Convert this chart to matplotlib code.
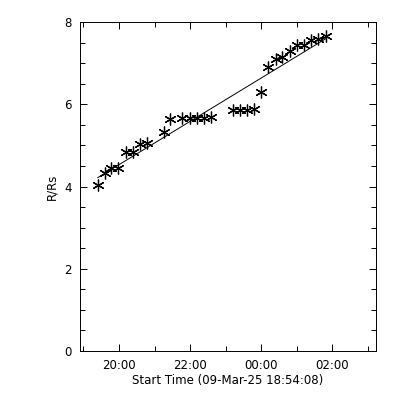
import numpy as np
import matplotlib
matplotlib.use("Agg")
import matplotlib.pyplot as plt
from matplotlib.ticker import FixedLocator, MultipleLocator

START = "18:54:08"  # start time of the plot (seconds axis origin)

times = ["19:24", "19:36", "19:47", "19:58", "20:12", "20:23", "20:36", "20:47",
         "21:16", "21:26", "21:47", "22:00", "22:11", "22:23", "22:35",
         "23:12", "23:24", "23:36", "23:48", "00:00", "00:12", "00:25", "00:36",
         "00:49", "01:01", "01:13", "01:25", "01:37", "01:49"]
heights = [4.03, 4.32, 4.44, 4.44, 4.83, 4.83, 5.03, 5.05,
           5.32, 5.63, 5.66, 5.67, 5.67, 5.67, 5.68,
           5.86, 5.86, 5.86, 5.89, 6.29, 6.90, 7.11, 7.15,
           7.30, 7.43, 7.43, 7.56, 7.58, 7.66]

tick_labels = ["20:00", "22:00", "00:00", "02:00"]


def to_seconds(hhmm: str) -> float:
    """seconds since START, times before 12:00 are taken as next day"""
    parts = [int(p) for p in hhmm.split(":")]
    h, m = parts[0], parts[1]
    s = parts[2] if len(parts) > 2 else 0
    if h < 12:
        h += 24
    return h * 3600 + m * 60 + s


t0 = to_seconds(START)
t = np.array([to_seconds(x) for x in times]) - t0
r = np.array(heights)

# linear fit through the points
coef = np.polyfit(t, r, 1)
fit = np.polyval(coef, t)

fig = plt.figure(figsize=(4, 4), dpi=100)
ax = fig.add_axes([0.2, 0.1225, 0.74, 0.8225])

ax.plot(t, r, linestyle="none", marker=(6, 2, 0), markersize=8.5,
        markeredgewidth=0.9, color="black")
ax.plot(t, fit, color="black", linewidth=0.7)

ax.set_xlim(0, 30000)
ax.set_ylim(0, 8)

major_x = [to_seconds(x) - t0 for x in tick_labels]
minor_x = [m + 3600 for m in major_x] + [major_x[0] - 3600]
ax.xaxis.set_major_locator(FixedLocator(major_x))
ax.xaxis.set_minor_locator(FixedLocator(minor_x))
ax.set_xticklabels(tick_labels)
ax.yaxis.set_major_locator(MultipleLocator(2))
ax.yaxis.set_minor_locator(MultipleLocator(0.5))

ax.tick_params(which="both", direction="in", top=True, right=True,
               width=0.7, labelsize=8.5, pad=6)
ax.tick_params(which="major", length=5)
ax.tick_params(which="minor", length=3.5)
for spine in ax.spines.values():
    spine.set_linewidth(0.7)

ax.set_xlabel("Start Time (09-Mar-25 18:54:08)", fontsize=8.5, labelpad=1)
ax.set_ylabel("R/Rs", fontsize=8.5, labelpad=4)

fig.savefig("out.png", dpi=100)
